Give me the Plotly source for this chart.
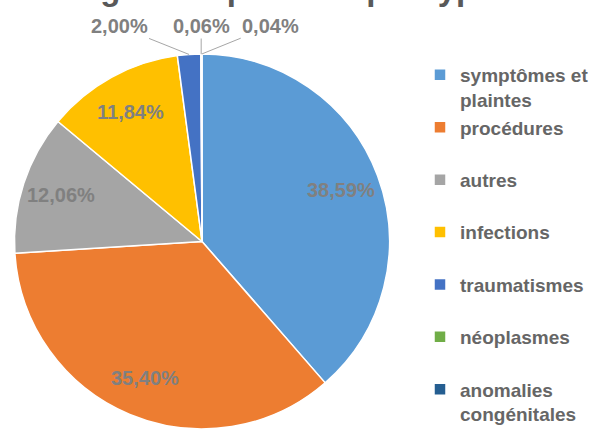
import math
import plotly.graph_objects as go

# ---- data ----
categories = ["symptômes et plaintes", "procédures", "autres", "infections",
              "traumatismes", "néoplasmes", "anomalies congénitales"]
values = [38.59, 35.40, 12.06, 11.84, 2.00, 0.06, 0.04]
colors = ["#5B9BD5", "#ED7D31", "#A5A5A5", "#FFC000", "#4472C4", "#70AD47", "#255E91"]
title_text = "Diagnostic primaire par type"

# ---- layout constants ----
W, H = 602, 429
M_T = 54
DOM_X = [12 / W, 392 / W]
FONT = "Liberation Sans, Arial, sans-serif"
LABEL_COLOR = "#808080"
LEGEND_COLOR = "#666666"
INSIDE_R = 0.79
# pixel offsets for the labels of the thin slices (label placement only)
outside_offsets = [None, None, None, None, (-70, -28), (0, -28), (69, -28)]


def wrap(text, width=12):
    lines, cur = [], ""
    for w in text.split():
        cand = (cur + " " + w).strip()
        if len(cand) <= width or not cur:
            cur = cand
        else:
            lines.append(cur)
            cur = w
    lines.append(cur)
    while len(lines) < 2:
        lines.append(" ")
    return "<br>".join(lines)


legend_labels = [wrap(c) for c in categories]

fig = go.Figure(go.Pie(
    labels=legend_labels,
    values=values,
    sort=False,
    direction="clockwise",
    rotation=0,
    marker=dict(colors=colors, line=dict(color="white", width=1.5)),
    textinfo="none",
    hoverinfo="label+percent",
    domain=dict(x=DOM_X, y=[0, 1]),
))

# geometry of the pie in pixels (to place the data labels)
plot_h = H - M_T
cx = W * (DOM_X[0] + DOM_X[1]) / 2
cy = M_T + plot_h / 2
R = min(W * (DOM_X[1] - DOM_X[0]), plot_h) / 2


def to_paper(px, py):
    return px / W, 1 - (py - M_T) / plot_h


total = sum(values)
cum = 0.0
annotations = []
for v, off in zip(values, outside_offsets):
    mid = (cum + v / 2) / total * 2 * math.pi
    cum += v
    txt = f"{v:.2f}".replace(".", ",") + "%"
    if off is None:
        px = cx + INSIDE_R * R * math.sin(mid)
        py = cy - INSIDE_R * R * math.cos(mid)
        x, y = to_paper(px, py)
        annotations.append(dict(x=x, y=y, xref="paper", yref="paper", text=txt,
                                showarrow=False, xanchor="center", yanchor="middle",
                                font=dict(family=FONT, size=20, color=LABEL_COLOR, weight="bold")))
    else:
        px = cx + R * math.sin(mid)
        py = cy - R * math.cos(mid)
        x, y = to_paper(px, py)
        annotations.append(dict(x=x, y=y, xref="paper", yref="paper", text=txt,
                                showarrow=True, arrowhead=0, arrowwidth=1, arrowcolor="#A6A6A6",
                                ax=off[0], ay=off[1], standoff=0,
                                font=dict(family=FONT, size=20, color=LABEL_COLOR, weight="bold")))

fig.update_layout(
    width=W, height=H,
    margin=dict(l=0, r=0, t=M_T, b=0, autoexpand=False),
    paper_bgcolor="white",
    plot_bgcolor="white",
    separators=", ",
    title=dict(text=title_text, xref="container", yref="container", x=49 / W, xanchor="left",
               y=1, yanchor="bottom",
               font=dict(family=FONT, size=33, color="#595959", weight="bold")),
    showlegend=True,
    legend=dict(xref="container", yref="container", x=420 / W, xanchor="left",
                y=1 - 56 / H, yanchor="top", valign="top", maxheight=1,
                font=dict(family=FONT, size=19, color=LEGEND_COLOR, weight="bold"),
                bgcolor="rgba(0,0,0,0)", borderwidth=0),
    annotations=annotations,
)

fig.write_html("out.html", config={"displayModeBar": False},
               post_script="document.body.style.margin='0px';")
